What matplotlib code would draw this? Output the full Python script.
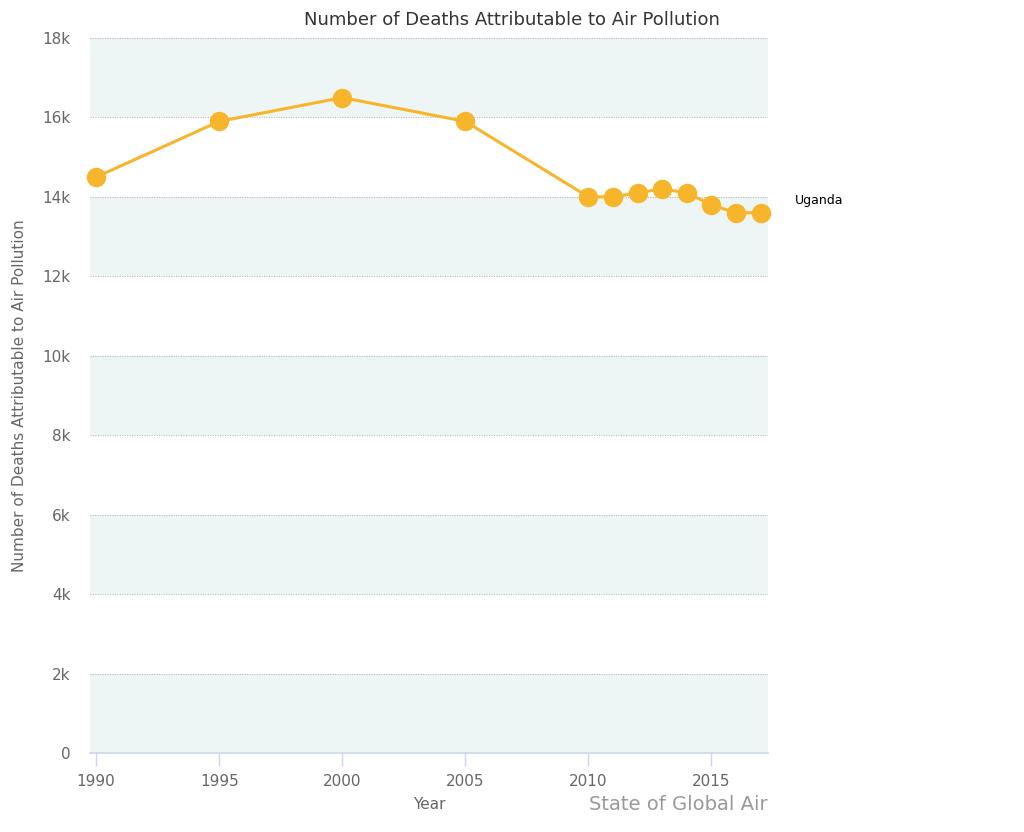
import matplotlib
matplotlib.use("Agg")
import matplotlib.pyplot as plt

years = [1990, 1995, 2000, 2005, 2010, 2011, 2012, 2013, 2014, 2015, 2016, 2017]
deaths = [14500, 15900, 16500, 15900, 14000, 14000, 14100, 14200, 14100, 13800, 13600, 13600]
series_name = "Uganda"
y_ticks = [0, 2000, 4000, 6000, 8000, 10000, 12000, 14000, 16000, 18000]
y_tick_labels = ["0", "2k", "4k", "6k", "8k", "10k", "12k", "14k", "16k", "18k"]
x_ticks = [1990, 1995, 2000, 2005, 2010, 2015]

plt.rcParams['font.family'] = ['DejaVu Sans']
fig = plt.figure(figsize=(10.24, 8.32), dpi=100)
ax = fig.add_axes([90/1024, 79/832, 678/1024, 715/832])

# alternating bands
for i in range(len(y_ticks) - 1):
    if i % 2 == 0:
        ax.axhspan(y_ticks[i], y_ticks[i+1], color="#eef6f5", zorder=0, lw=0)

for yt in y_ticks[1:]:
    ax.axhline(yt, color="#b4baba", lw=0.8, ls=(0, (1, 1.2)), zorder=1)

color = "#f7b52c"
ax.plot(years, deaths, color=color, lw=2.2, marker="o", markersize=13, zorder=3,
        clip_on=False)

ax.set_xlim(1989.75, 2017.3)
ax.set_ylim(0, 18000)
ax.set_yticks(y_ticks)
ax.set_yticklabels(y_tick_labels)
ax.set_xticks(x_ticks)
ax.tick_params(axis="y", length=0, pad=14, labelsize=11, labelcolor="#666666")
ax.tick_params(axis="x", length=9, width=1, color="#ccd6eb", pad=6, labelsize=11,
               labelcolor="#666666")
for s in ["top", "right", "left"]:
    ax.spines[s].set_visible(False)
ax.spines["bottom"].set_color("#ccd6eb")
ax.spines["bottom"].set_linewidth(1.2)

fig.text(0.5, 1 - 20/832, "Number of Deaths Attributable to Air Pollution", fontsize=13,
         color="#333333", ha="center", va="center")
ax.set_ylabel("Number of Deaths Attributable to Air Pollution", fontsize=11,
              color="#666666")
ax.yaxis.set_label_coords(-(90 - 27) / 678, 0.5)
ax.set_xlabel("Year", fontsize=11, color="#666666", labelpad=6)

ax.text(1.04, (deaths[-1] + 300) / 18000, series_name, transform=ax.transAxes,
        fontsize=9, color="black", va="center", ha="left")
fig.text(768/1024, 1 - 805/832, "State of Global Air", fontsize=14, color="#999999",
         ha="right", va="center")

fig.savefig("out.png", dpi=100, facecolor="white")
